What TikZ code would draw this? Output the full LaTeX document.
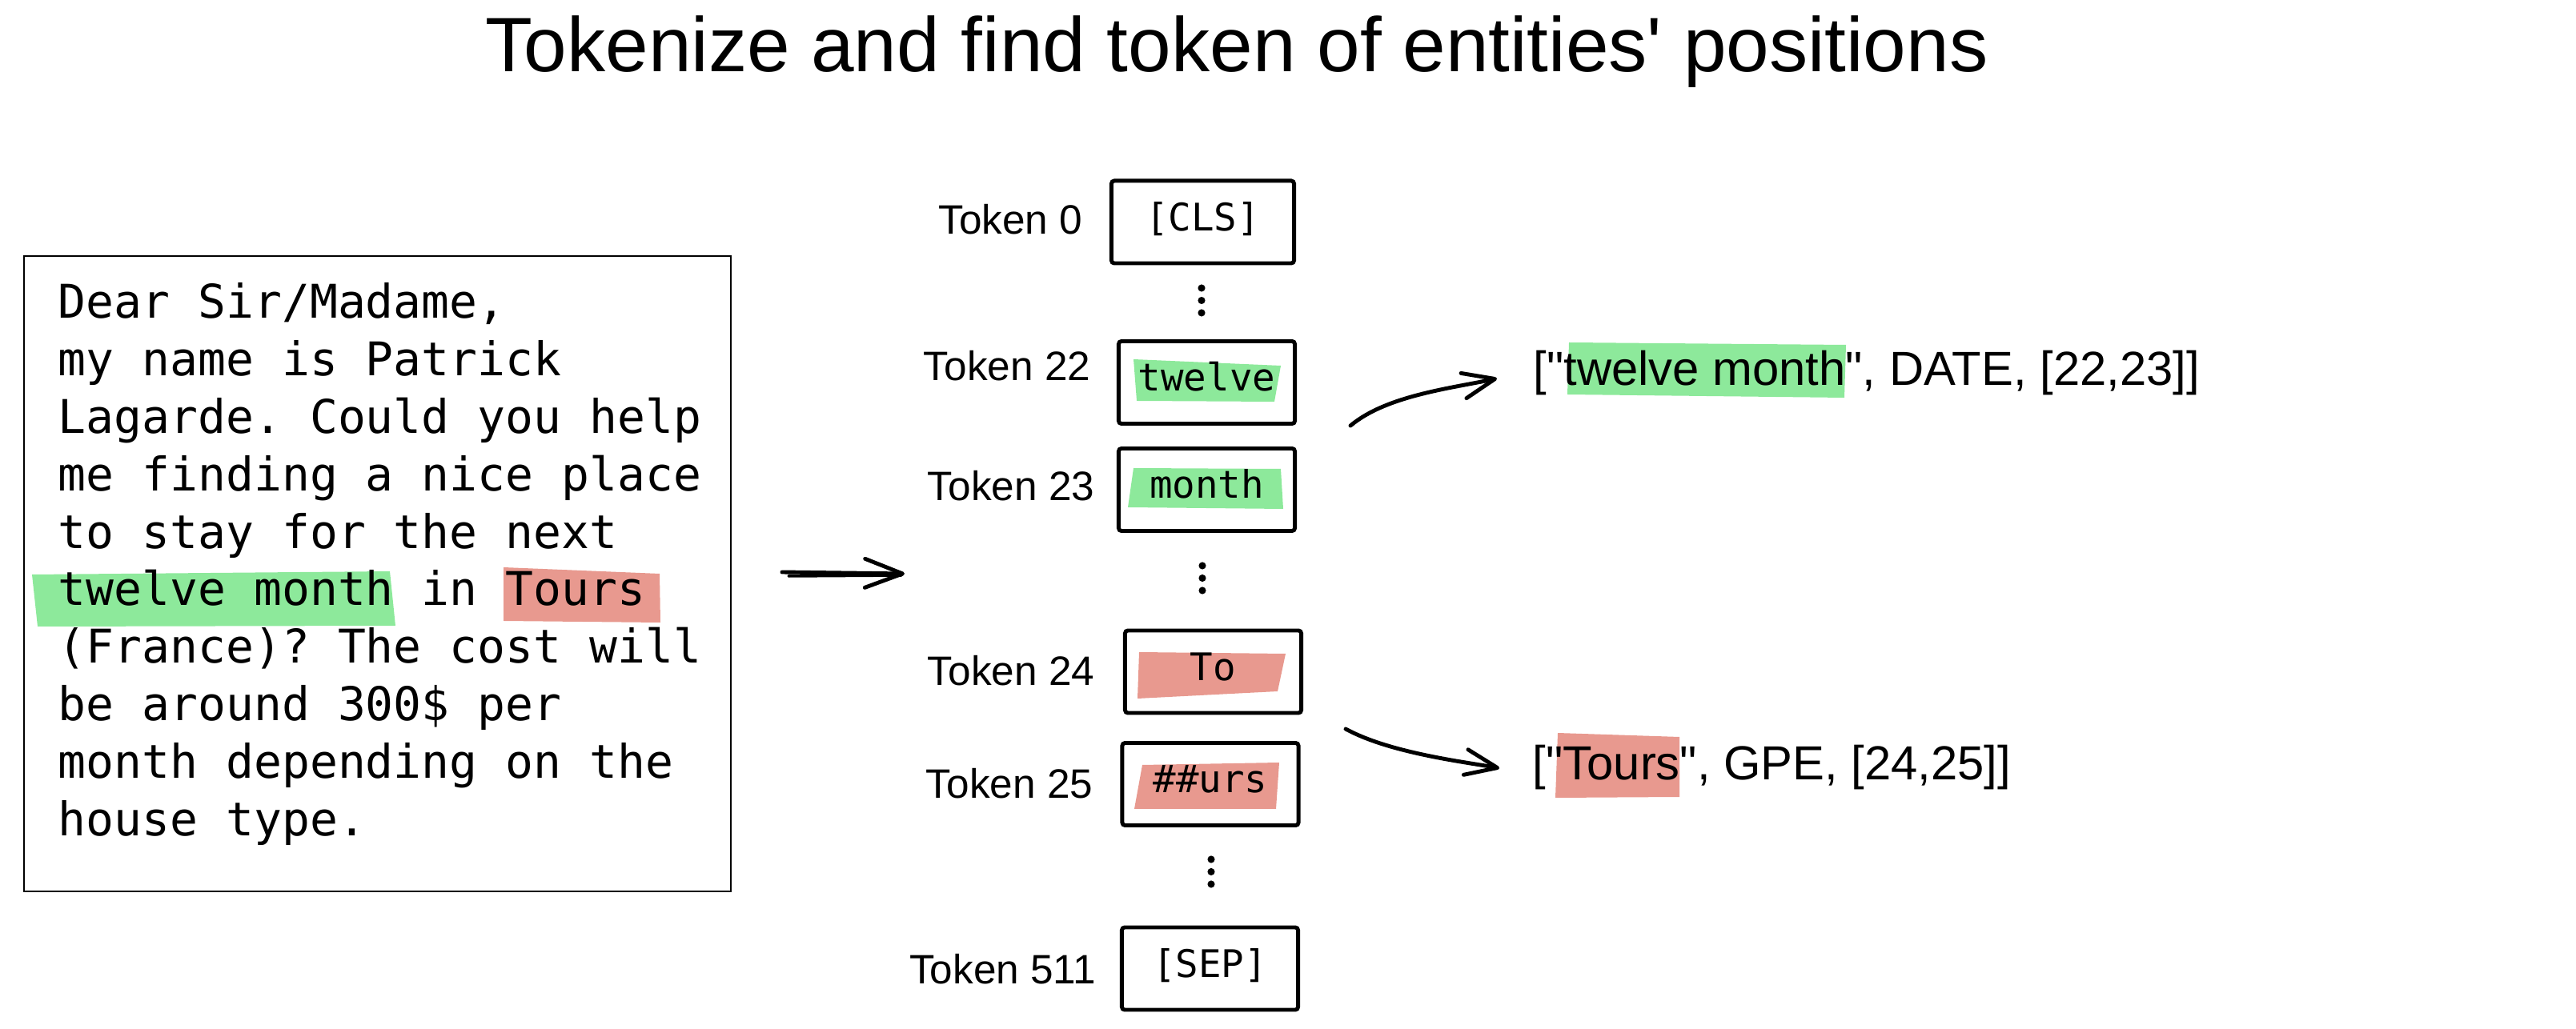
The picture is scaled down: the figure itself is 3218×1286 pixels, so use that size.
\documentclass[tikz,border=0pt]{standalone}
\usepackage{fontspec}
\setmainfont{Liberation Sans}
\setmonofont{DejaVu Sans Mono}
\usetikzlibrary{arrows.meta}
\definecolor{hlgreen}{HTML}{8DE99B}
\definecolor{hlred}{HTML}{E8998F}

\begin{document}
\begin{tikzpicture}[x=0.01cm,y=-0.01cm,
  tok/.style={draw,line width=1.4pt,rounded corners=1pt,minimum width=2.2cm,minimum height=1.03cm,inner sep=0pt,
    text height=.8em,text depth=.2em,font=\ttfamily\fontsize{13.5}{16}\selectfont},
  toklabel/.style={anchor=base east,inner sep=0pt,font=\fontsize{14.6}{17}\selectfont},
  letter/.style={anchor=base west,inner sep=0pt,font=\ttfamily\fontsize{16.5}{20}\selectfont},
  result/.style={anchor=base west,inner sep=0pt,font=\fontsize{17}{20}\selectfont},
  hand/.style={line width=1.4pt,line cap=round,line join=round},
  barb/.style={-{Straight Barb[length=4mm,width=3.2mm,round]}}]
  \useasboundingbox (0,0) rectangle (3218,1286);

  \node[anchor=base,inner sep=0pt,font=\fontsize{27.4}{32}\selectfont] (title) at (1545,90)
    {Tokenize and find token of entities\textquotesingle{} positions};

  \fill[hlgreen] (40,718) -- (487,714) -- (494,782) -- (47,783) -- cycle;
  \fill[hlred] (629,709) -- (824,717) -- (825,778) -- (629,776) -- cycle;
  \draw[line width=0.7pt] (30,320) rectangle (913,1114);
  \foreach \t [count=\i] in {{Dear Sir/Madame,},{my name is Patrick},{Lagarde. Could you help},
      {me finding a nice place},{to stay for the next},{twelve month in Tours},
      {(France)? The cost will},{be around 300\$ per},{month depending on the},{house type.}}
    \node[letter] (line\i) at (72,{398+71.8*(\i-1)}) {\t};

  \coordinate (m1) at (977,715); \coordinate (m2) at (1130,717);
  \draw[hand,-{Straight Barb[length=4.7mm,width=3.6mm,round]}] (m1) -- (m2);
  \draw[hand,line width=1pt] (985,720) -- (1126,719);

  \fill[hlgreen] (1416,449) -- (1600,457) -- (1592,502) -- (1420,501) -- cycle;
  \fill[hlgreen] (1416,585) -- (1600,586) -- (1603,636) -- (1409,634) -- cycle;
  \fill[hlred] (1423,815) -- (1606,817) -- (1596,864) -- (1421,873) -- cycle;
  \fill[hlred] (1427,956) -- (1598,953) -- (1594,1011) -- (1417,1011) -- cycle;

  \node[tok,minimum width=2.28cm] (cls) at (1502.5,277.5) {[CLS]};
  \node[tok] (twelve) at (1507.5,478) {twelve};
  \node[tok] (month) at (1507.5,612) {month};
  \node[tok] (to) at (1515.5,839.5) {To};
  \node[tok] (urs) at (1512,980) {\#\#urs};
  \node[tok] (sep) at (1511.5,1210.5) {[SEP]};

  \node[toklabel] (lab0) at (1353,293) {Token 0};
  \node[toklabel] (lab22) at (1363,476) {Token 22};
  \node[toklabel] (lab23) at (1368,626) {Token 23};
  \node[toklabel] (lab24) at (1368,857) {Token 24};
  \node[toklabel] (lab25) at (1366,998) {Token 25};
  \node[toklabel] (lab511) at (1370,1229) {Token 511};

  \foreach \x/\y in {1501/375.5,1502/722.5,1513/1089.5}
    \foreach \d in {-15.5,0,15.5}
      \fill (\x,\y+\d) circle[radius=1.3pt];

  \fill[hlgreen] (1960,428) -- (2306,431) -- (2304,497) -- (1958,493) -- cycle;
  \node[result] (date) at (1915,482) {[\textquotedbl twelve month\textquotedbl, DATE, [22,23]]};
  \fill[hlred] (1946,916) -- (2098,921) -- (2098,996) -- (1943,997) -- cycle;
  \node[result] (gpe) at (1914,975) {[\textquotedbl Tours\textquotedbl, GPE, [24,25]]};

  \coordinate (in1) at (1687,532); \coordinate (out1) at (1870,473);
  \draw[hand,barb] (in1) .. controls +(45,-38) and +(-55,12) .. (out1);
  \coordinate (in2) at (1681,911); \coordinate (out2) at (1873,960);
  \draw[hand,barb] (in2) .. controls +(55,30) and +(-45,-8) .. (out2);
\end{tikzpicture}
\end{document}
